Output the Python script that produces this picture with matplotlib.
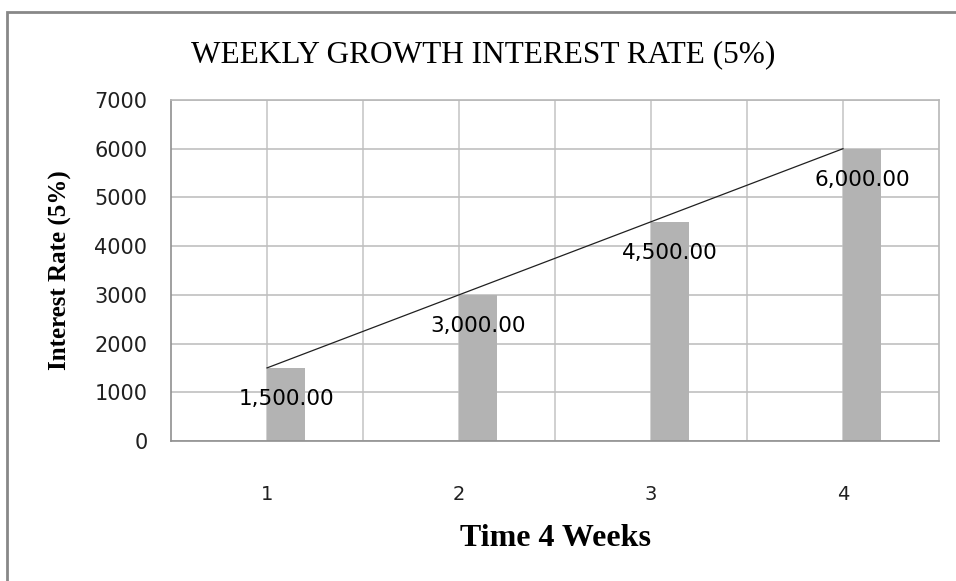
import numpy as np
import matplotlib.pyplot as plt
from matplotlib.patches import Rectangle

weeks = [1, 2, 3, 4]
week_labels = ["1", "2", "3", "4"]
interest = [1500, 3000, 4500, 6000]
y_ticks = [0, 1000, 2000, 3000, 4000, 5000, 6000, 7000]

fig = plt.figure(figsize=(9.56, 5.81), dpi=100)
ax = fig.add_axes([0.1789, 0.241, 0.8033, 0.5869])

# bars sit to the right of the category centre, line goes through the centre
ax.bar(weeks, interest, width=0.2, align="edge", color="#b3b3b3", zorder=2)
ax.plot(weeks, interest, color="#202020", linewidth=0.9, zorder=3)

for x, v in zip(weeks, interest):
    ax.annotate(f"{v:,.2f}", (x + 0.1, v), xytext=(0, -31),
                textcoords="offset pixels", ha="center", va="center",
                fontsize=15.5, family="DejaVu Sans", color="black", zorder=4)

ax.set_xlim(0.5, 4.5)
ax.set_ylim(0, 7000)
ax.set_yticks(y_ticks)
ax.set_yticklabels([str(t) for t in y_ticks])
ax.set_xticks(weeks)
ax.set_xticklabels(week_labels)
ax.grid(True, axis="y", color="#c0c0c0", linewidth=1.2, zorder=0)
# vertical grid every half category
for gx in np.arange(1, 4.5, 0.5):
    ax.axvline(gx, color="#c8c8c8", linewidth=1.2, zorder=0)
ax.tick_params(axis="both", which="both", length=0)
ax.tick_params(axis="y", labelsize=15, pad=17)
ax.tick_params(axis="x", labelsize=14, pad=32)
for lbl in ax.get_xticklabels() + ax.get_yticklabels():
    lbl.set_color("#202020")
for s in ax.spines.values():
    s.set_color("#b8b8b8")
    s.set_linewidth(1.2)
ax.spines["left"].set_color("#909090")
ax.spines["bottom"].set_color("#909090")

ax.set_xlabel("Time 4 Weeks", family="Liberation Serif", fontweight="bold",
              fontsize=23, labelpad=14)
ax.set_ylabel("Interest Rate (5%)", family="Liberation Serif", fontweight="bold",
              fontsize=18, labelpad=16)

fig.text(0.505, 0.905, "WEEKLY GROWTH INTEREST RATE (5%)", ha="center", va="center",
         family="Liberation Serif", fontsize=22.5)

# outer chart frame (left and top edges visible)
fig.patches.append(Rectangle((7 / 956, -0.1), 1.1, 1 - 12 / 581 + 0.1,
                             transform=fig.transFigure, fill=False,
                             edgecolor="#888888", linewidth=2))

fig.savefig("out.png", dpi=100)
